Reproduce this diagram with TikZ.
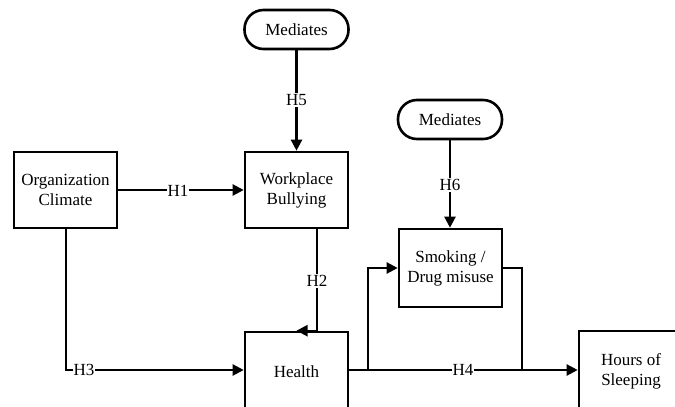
\documentclass[tikz,border=0pt]{standalone}
\usepackage{fontspec}
\setmainfont{Liberation Serif}
\usetikzlibrary{arrows.meta}
\begin{document}
\begin{tikzpicture}[x=1pt,y=-1pt,
  txt/.style={font=\fontsize{17}{20}\selectfont},
  box/.style={txt, draw, line width=2.6pt, minimum width=103pt, minimum height=76pt, align=center, inner sep=0pt},
  medbox/.style={txt, draw, line width=2.6pt, rounded corners=19pt, minimum width=104pt, minimum height=39pt, inner sep=0pt},
  conn/.style={line width=2.3pt},
  arr/.style={conn, -{Triangle[length=11pt,width=11pt]}},
  lab/.style={txt, fill=white, inner sep=1pt}]
\clip (0,0) rectangle (675,407);
\fill[white] (0,0) rectangle (675,407);
\node[box] (org) at (65.5,190) {Organization\\Climate};
\node[box] (wb) at (296.5,190) {Workplace\\Bullying};
\node[medbox] (med1) at (296.5,29.5) {Mediates};
\node[medbox] (med2) at (450,119.5) {Mediates};
\node[box, minimum height=78pt] (smk) at (450.5,268) {Smoking /\\Drug misuse};
\node[box, minimum height=80pt] (health) at (296.5,372) {Health};
\node[box, minimum width=104pt, minimum height=80pt] (hours) at (631,371) {Hours of\\Sleeping};
\coordinate (h2x) at (317,0);
\coordinate (h3x) at (66,0);
\coordinate (br) at (368,370);
\coordinate (jn) at (522,370);
% connectors
\draw[arr] (org.east) -- (wb.west);
\node[lab] (lh1) at (178,191) {H1};
\draw[arr] (med1.south) -- (wb.north);
\node[lab] (lh5) at (296.5,100) {H5};
\draw[arr] (med2.south) -- (smk.north -| med2.south);
\node[lab] (lh6) at (450,185) {H6};
\draw[arr] (wb.south -| h2x) |- (health.north);
\node[lab] (lh2) at (317,281) {H2};
\draw[arr] (org.south -| h3x) |- (health.west |- br);
\node[lab] (lh3) at (84,370) {H3};
\draw[arr] (health.east |- br) -- (hours.west |- br);
\node[lab] (lh4) at (463,370) {H4};
\draw[arr] (br) |- (smk.west);
\draw[conn] (smk.east) -| (jn);
\end{tikzpicture}
\end{document}
